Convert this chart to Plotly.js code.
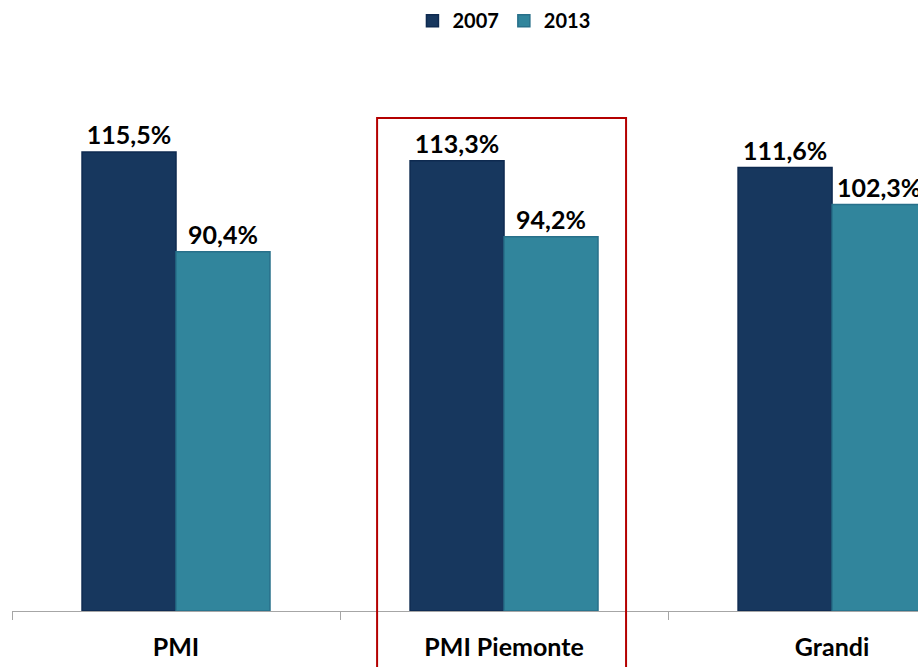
<!DOCTYPE html>
<html>
<head>
<meta charset="utf-8">
<script src="https://cdn.plot.ly/plotly-3.0.1.min.js"></script>
<style>html,body{margin:0;padding:0;background:#fff;}#chart{width:918px;height:667px;}</style>
</head>
<body>
<div id="chart"></div>
<script>
const categories = ["PMI", "PMI Piemonte", "Grandi"];
const seriesNames = ["2007", "2013"];
const values2007 = [115.5, 113.3, 111.6];
const values2013 = [90.4, 94.2, 102.3];
const colors = ["#17375e", "#31859c"];
const lineColors = ["#0e2a50", "#28708a"];

const fnt = "Lato, 'Open Sans', sans-serif";
const seriesVals = [values2007, values2013];
const traces = seriesNames.map((n, i) => ({
  type: "bar",
  name: n,
  x: categories,
  y: seriesVals[i],
  marker: {color: colors[i], line: {color: lineColors[i], width: 1.5}},
  texttemplate: "%{y:.1f}%",
  textposition: "outside",
  constraintext: "none",
  cliponaxis: false,
  textfont: {family: fnt, size: 25, color: "#000", weight: "bold"},
  hoverinfo: "none"
}));

const layout = {
  width: 918, height: 667,
  margin: {l: 12, r: 0, t: 40, b: 56},
  paper_bgcolor: "#fff", plot_bgcolor: "#fff",
  separators: ",.",
  barmode: "group",
  bargap: 0.427,
  bargroupgap: 0,
  showlegend: true,
  legend: {orientation: "h", x: 0.442, xanchor: "left", y: 1.068, yanchor: "top",
           font: {family: fnt, size: 20, color: "#000", weight: "bold"},
           itemwidth: 30, tracegroupgap: 0},
  xaxis: {range: [-0.5, 2.262], showline: true, linecolor: "#a6a6a6", linewidth: 1,
          ticks: "outside", tickson: "boundaries", ticklen: 8, tickcolor: "#a6a6a6",
          ticklabelstandoff: 14,
          tickfont: {family: fnt, size: 25, color: "#000", weight: "bold"},
          showgrid: false, zeroline: false, fixedrange: true},
  yaxis: {range: [0, 143.7], visible: false, showgrid: false, zeroline: false, fixedrange: true},
  shapes: [{type: "rect", xref: "x", yref: "paper", x0: 0.613, x1: 1.372, y0: -0.2, y1: 0.8634,
            line: {color: "#b40000", width: 2}, fillcolor: "rgba(0,0,0,0)"}]
};

Plotly.newPlot("chart", traces, layout, {displayModeBar: false, staticPlot: true});
</script>
</body>
</html>
